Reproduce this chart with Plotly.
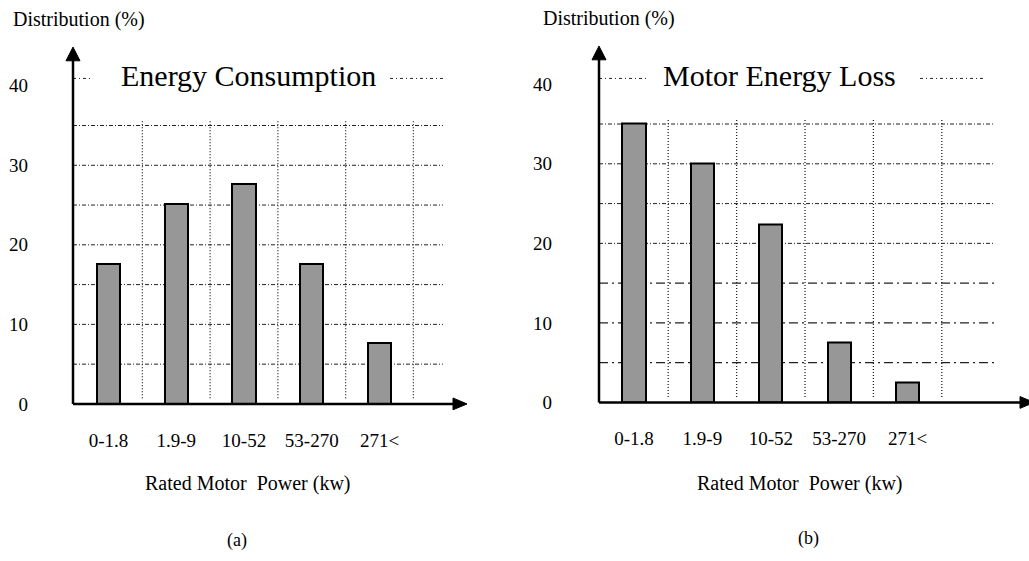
import plotly.graph_objects as go

W, H = 1029, 561

# ---- data -------------------------------------------------------------
categories = ["0-1.8", "1.9-9", "10-52", "53-270", "271<"]
energy_consumption = [17.6, 25.1, 27.6, 17.6, 7.7]   # panel (a), %
motor_energy_loss = [35.1, 30.1, 22.4, 7.5, 2.5]     # panel (b), %
y_tick_values = [0, 10, 20, 30, 40]
grid_levels = [5, 10, 15, 20, 25, 30, 35]
panel_titles = ["Energy Consumption", "Motor Energy Loss"]
panel_tags = ["(a)", "(b)"]
y_title = "Distribution (%)"
x_title = "Rated Motor\u00a0 Power (kw)"

FONT = "Liberation Serif, Times New Roman, serif"
Y_MAX = 45.0
PX_PER_UNIT = 8.114


def fx(p):
    return p / W


def fy(p):
    return 1 - p / H


# pixel geometry of each panel
panels = [
    dict(axis_x=73, base_y=412, tip_x=467, tip_y=48, step=67.75, first=108.5,
         grid_end=443, cx=248, title_y=77, ytitle_x=79, ytitle_y=20,
         xtitle_x=248, xtitle_y=493, tag_x=237, tag_y=551,
         top_line_y=80, top_segments=[(73, 92), (390, 443)],
         values=energy_consumption, fine_levels=grid_levels, coarse_levels=[],
         ystandoff=44),
    dict(axis_x=599, base_y=410.5, tip_x=1034, tip_y=47, step=68.4, first=634,
         grid_end=995, cx=779, title_y=77, ytitle_x=609, ytitle_y=19,
         xtitle_x=800, xtitle_y=493, tag_x=808, tag_y=549,
         top_line_y=80, top_segments=[(599, 646), (920, 986)],
         values=motor_energy_loss, fine_levels=[20, 25, 30, 35], coarse_levels=[5, 10, 15],
         ystandoff=46),
]

fig = go.Figure()
shapes = []
annotations = []
layout_axes = {}

for k, p in enumerate(panels, start=1):
    xa = "x" if k == 1 else f"x{k}"
    ya = "y" if k == 1 else f"y{k}"
    x_lo = (p["axis_x"] - p["first"]) / p["step"]
    x_hi = (min(p["tip_x"], W) - p["first"]) / p["step"]
    top_px = p["base_y"] - Y_MAX * PX_PER_UNIT

    fig.add_trace(go.Bar(
        x=list(range(len(categories))), y=p["values"], width=0.34,
        marker=dict(color="#979797", line=dict(color="black", width=2)),
        xaxis=xa, yaxis=ya, showlegend=False, hoverinfo="skip",
    ))

    layout_axes[("xaxis" if k == 1 else f"xaxis{k}")] = dict(
        domain=[fx(p["axis_x"]), fx(min(p["tip_x"], W))],
        range=[x_lo, x_hi], anchor=ya,
        tickmode="array", tickvals=list(range(len(categories))), ticktext=categories,
        showgrid=False, zeroline=False, showline=False, ticks="",
        ticklabelstandoff=23,
        tickfont=dict(family=FONT, size=19, color="black"),
    )
    layout_axes[("yaxis" if k == 1 else f"yaxis{k}")] = dict(
        domain=[fy(p["base_y"]), fy(top_px)],
        range=[0, Y_MAX], anchor=xa,
        tickmode="array", tickvals=y_tick_values,
        showgrid=False, zeroline=False, showline=False, ticks="",
        ticklabelstandoff=p["ystandoff"],
        tickfont=dict(family=FONT, size=19, color="black"),
    )

    x_grid_end = (p["grid_end"] - p["first"]) / p["step"]

    # horizontal dash-dot grid
    for lv in p["fine_levels"]:
        shapes.append(dict(type="line", xref=xa, yref=ya, x0=x_lo, x1=x_grid_end,
                           y0=lv, y1=lv, layer="below",
                           line=dict(color="#222", width=1, dash="4px,2px,1px,2px")))
    for lv in p["coarse_levels"]:
        shapes.append(dict(type="line", xref=xa, yref=ya, x0=x_lo, x1=x_grid_end,
                           y0=lv, y1=lv, layer="below",
                           line=dict(color="#222", width=1.3, dash="9px,4px,2px,4px")))
    # top line, interrupted by the panel title
    for a, b in p["top_segments"]:
        shapes.append(dict(type="line", xref="paper", yref="paper",
                           x0=fx(a), x1=fx(b), y0=fy(p["top_line_y"]), y1=fy(p["top_line_y"]),
                           layer="below",
                           line=dict(color="#222", width=1, dash="3px,3px,1px,3px")))
    # vertical dotted grid between categories
    for i in range(len(categories)):
        shapes.append(dict(type="line", xref=xa, yref=ya, x0=i + 0.5, x1=i + 0.5,
                           y0=0.7, y1=35.6, layer="below",
                           line=dict(color="#222", width=1.3, dash="1px,2px")))

    # axes with arrowheads
    bx, by = p["axis_x"], p["base_y"]
    shapes.append(dict(type="line", xref="paper", yref="paper",
                       x0=fx(bx), x1=fx(bx), y0=fy(by), y1=fy(p["tip_y"] + 12),
                       line=dict(color="black", width=2.5)))
    shapes.append(dict(type="path", xref="paper", yref="paper",
                       path=f"M {fx(bx - 7)},{fy(p['tip_y'] + 14)} L {fx(bx)},{fy(p['tip_y'])} "
                            f"L {fx(bx + 7)},{fy(p['tip_y'] + 14)} Z",
                       fillcolor="black", line=dict(color="black", width=1)))
    shapes.append(dict(type="line", xref="paper", yref="paper",
                       x0=fx(bx), x1=fx(p["tip_x"] - 12), y0=fy(by), y1=fy(by),
                       line=dict(color="black", width=2.5)))
    shapes.append(dict(type="path", xref="paper", yref="paper",
                       path=f"M {fx(p['tip_x'] - 14)},{fy(by - 6)} L {fx(p['tip_x'])},{fy(by)} "
                            f"L {fx(p['tip_x'] - 14)},{fy(by + 6)} Z",
                       fillcolor="black", line=dict(color="black", width=1)))

    # texts
    annotations.append(dict(text=panel_titles[k - 1], xref="paper", yref="paper",
                            x=fx(p["cx"]), y=fy(p["title_y"]), showarrow=False,
                            xanchor="center", yanchor="middle",
                            font=dict(family=FONT, size=30, color="black")))
    annotations.append(dict(text=y_title, xref="paper", yref="paper",
                            x=fx(p["ytitle_x"]), y=fy(p["ytitle_y"]), showarrow=False,
                            xanchor="center", yanchor="middle",
                            font=dict(family=FONT, size=20, color="black")))
    annotations.append(dict(text=x_title, xref="paper", yref="paper",
                            x=fx(p["xtitle_x"]), y=fy(p["xtitle_y"]), showarrow=False,
                            xanchor="center", yanchor="middle",
                            font=dict(family=FONT, size=20, color="black")))
    annotations.append(dict(text=panel_tags[k - 1], xref="paper", yref="paper",
                            x=fx(p["tag_x"]), y=fy(p["tag_y"]), showarrow=False,
                            xanchor="center", yanchor="middle",
                            font=dict(family=FONT, size=18, color="black")))

fig.update_layout(
    width=W, height=H,
    margin=dict(l=0, r=0, t=0, b=0),
    paper_bgcolor="white", plot_bgcolor="rgba(0,0,0,0)",
    shapes=shapes, annotations=annotations,
    bargap=0, **layout_axes,
)

fig.write_html("out.html")
